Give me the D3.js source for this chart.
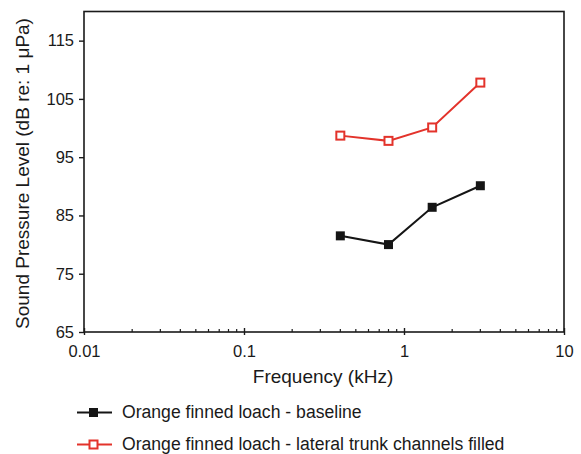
<!DOCTYPE html>
<html><head><meta charset="utf-8">
<script src="https://cdn.jsdelivr.net/npm/d3@7"></script>
<style>body{margin:0;background:#fff}svg{display:block}text{font-family:"Liberation Sans",Arial,sans-serif;fill:#1a1a1a}</style>
</head><body>
<script>
const frequencies = [0.4, 0.8, 1.5, 3];
const baseline = [81.5, 80.0, 86.4, 90.1];
const filled = [98.7, 97.8, 100.1, 107.8];
const seriesNames = ["Orange finned loach - baseline", "Orange finned loach - lateral trunk channels filled"];
const yTicks = [65, 75, 85, 95, 105, 115];
const xTicks = [0.01, 0.1, 1, 10];
const xTickLabels = ["0.01", "0.1", "1", "10"];

const W = 581, H = 454;
const L = 84, R = 564, T = 11.5, B = 332;
const black = "#151515", red = "#e3332b";
const svg = d3.select("body").append("svg").attr("width", W).attr("height", H);

const x = d3.scaleLog().domain([0.01, 10]).range([L, R]);
const y = d3.scaleLinear().domain([65, 120]).range([B, T]);

// frame
svg.append("rect").attr("x", L).attr("y", T).attr("width", R - L).attr("height", B - T)
  .attr("fill", "none").attr("stroke", "#1a1a1a").attr("stroke-width", 1.6);

// y axis
const yAxis = svg.append("g").attr("transform", `translate(${L},0)`)
  .call(d3.axisLeft(y).tickValues(yTicks).tickSize(5).tickPadding(5).tickFormat(d3.format("d")));
yAxis.select(".domain").remove();
yAxis.selectAll("line").attr("stroke", "#1a1a1a").attr("stroke-width", 1.4);
yAxis.selectAll("text").style("font-size", "16.5px").attr("fill", "#1a1a1a").attr("font-family", null);

// x minor ticks
const minors = [];
for (let e = -2; e < 1; e++) for (let k = 2; k <= 9; k++) minors.push(k * Math.pow(10, e));
svg.append("g").selectAll("line").data(minors).join("line")
  .attr("x1", d => x(d)).attr("x2", d => x(d)).attr("y1", B).attr("y2", B - 3)
  .attr("stroke", "#1a1a1a").attr("stroke-width", 1.2);

// x axis major
const xAxis = svg.append("g").attr("transform", `translate(0,${B})`)
  .call(d3.axisBottom(x).tickValues(xTicks).tickSize(3).tickPadding(10).tickFormat((d, i) => xTickLabels[i]));
xAxis.select(".domain").remove();
xAxis.selectAll("line").attr("y1", -4).attr("y2", 3).attr("stroke", "#1a1a1a").attr("stroke-width", 1.4);
xAxis.selectAll("text").style("font-size", "16.5px").attr("fill", "#1a1a1a").attr("font-family", null);

// titles
svg.append("text").attr("x", 323).attr("y", 383).attr("text-anchor", "middle")
  .style("font-size", "19px").text("Frequency (kHz)");
svg.append("text").attr("transform", `translate(29,173.5) rotate(-90)`).attr("text-anchor", "middle")
  .style("font-size", "19px").text("Sound Pressure Level (dB re: 1 μPa)");

// series
const line = d3.line().x(d => x(d[0])).y(d => y(d[1]));
const d0 = frequencies.map((f, i) => [f, baseline[i]]);
const d1 = frequencies.map((f, i) => [f, filled[i]]);
svg.append("path").datum(d0).attr("d", line).attr("fill", "none").attr("stroke", black).attr("stroke-width", 2);
svg.append("path").datum(d1).attr("d", line).attr("fill", "none").attr("stroke", red).attr("stroke-width", 2);
const s = 9;
svg.append("g").selectAll("rect").data(d0).join("rect")
  .attr("x", d => x(d[0]) - s / 2).attr("y", d => y(d[1]) - s / 2).attr("width", s).attr("height", s).attr("fill", black);
svg.append("g").selectAll("rect").data(d1).join("rect")
  .attr("x", d => x(d[0]) - (s - 1) / 2).attr("y", d => y(d[1]) - (s - 1) / 2).attr("width", s - 1).attr("height", s - 1)
  .attr("fill", "#fff").attr("stroke", red).attr("stroke-width", 2);

// legend
const legY = [412.5, 444.5];
const colors = [black, red];
seriesNames.forEach((n, i) => {
  const g = svg.append("g");
  g.append("line").attr("x1", 77).attr("x2", 112).attr("y1", legY[i]).attr("y2", legY[i]).attr("stroke", colors[i]).attr("stroke-width", 2);
  if (i === 0) g.append("rect").attr("x", 93.5 - s / 2).attr("y", legY[i] - s / 2).attr("width", s).attr("height", s).attr("fill", black);
  else g.append("rect").attr("x", 93.5 - (s - 1) / 2).attr("y", legY[i] - (s - 1) / 2).attr("width", s - 1).attr("height", s - 1).attr("fill", "#fff").attr("stroke", red).attr("stroke-width", 2);
  g.append("text").attr("x", 122).attr("y", legY[i] + 5.5).style("font-size", "17.6px").text(n);
});
</script>
</body></html>
